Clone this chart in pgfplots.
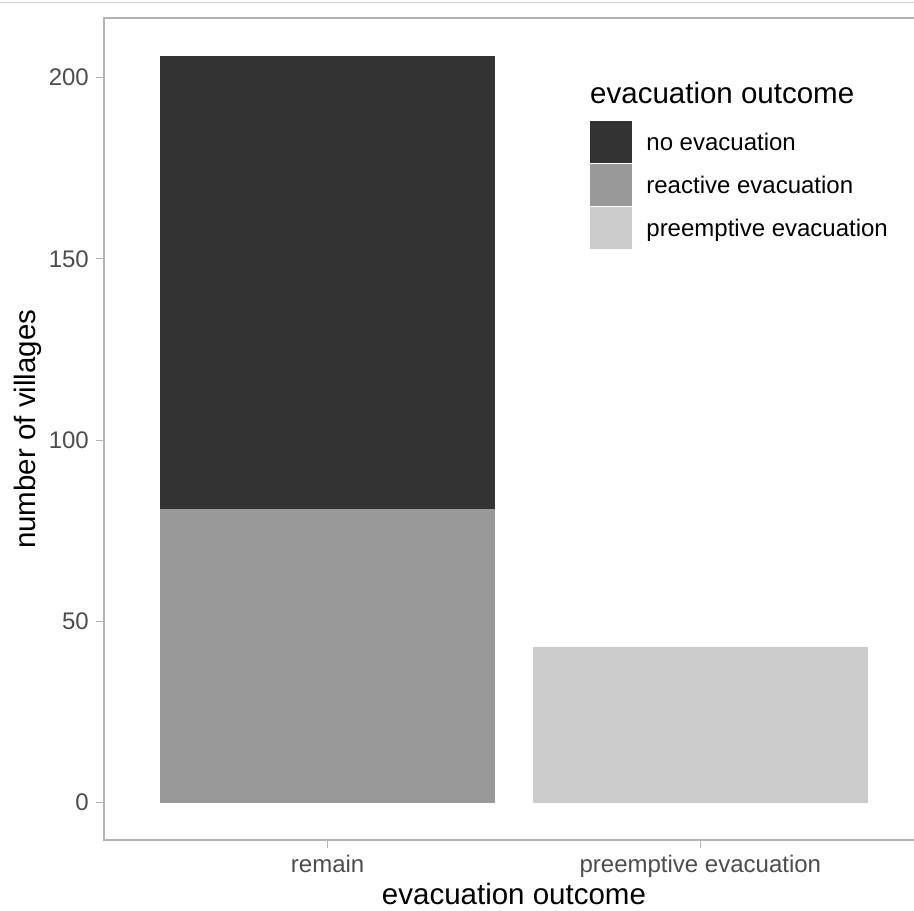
\documentclass[border=0pt]{standalone}
\usepackage{fontspec}
\setmainfont{Liberation Sans}
\usepackage{pgfplots}
\pgfplotsset{compat=1.18}
\definecolor{cdark}{HTML}{333333}
\definecolor{cmid}{HTML}{999999}
\definecolor{clight}{HTML}{CCCCCC}
\definecolor{cborder}{HTML}{B3B3B3}
\definecolor{ctick}{HTML}{4D4D4D}
\definecolor{ctop}{HTML}{CCCCCC}
\begin{document}
\begin{tikzpicture}
\useasboundingbox (0,0) rectangle (914pt,911pt);
\clip (0,0) rectangle (914pt,911pt);
\draw[ctop, line width=1pt] (0,908pt) -- (914pt,908pt);
\begin{axis}[
  at={(104pt,71pt)}, anchor=south west,
  scale only axis, width=820pt, height=821.5pt,
  xmin=0.4, xmax=2.6, ymin=-10.3, ymax=216.3,
  ybar stacked, bar width=0.9,
  xtick={1,2}, xticklabels={remain, preemptive evacuation},
  ytick={0,50,100,150,200},
  xtick pos=bottom, ytick pos=left,
  tick align=outside, major tick length=8.5pt,
  tick style={cborder, line width=1pt},
  axis line style={cborder, line width=2pt},
  /pgf/number format/assume math mode=true,
  ticklabel style={font=\fontsize{24}{28}\selectfont, text=ctick, inner sep=0pt},
  xticklabel style={anchor=base, yshift=-23.5pt},
  yticklabel style={anchor=east, xshift=-6.5pt},
  xlabel={evacuation outcome},
  ylabel={number of villages},
  every axis x label/.style={at={(rel axis cs:0.5,-0.0791)}, anchor=base, inner sep=0pt, font=\fontsize{29.5}{34}\selectfont, text=black},
  every axis y label/.style={at={(rel axis cs:-0.0835,0.5)}, rotate=90, anchor=base, inner sep=0pt, font=\fontsize{29.5}{34}\selectfont, text=black},
  legend style={at={(rel axis cs:0.5927,0.8752)}, anchor=north west, draw=none, fill=none,
    inner sep=0pt, outer sep=0pt, row sep=1.5pt, column sep=15pt,
    font=\fontsize{24}{28}\selectfont,
    nodes={inner sep=0pt, text height=18pt, text depth=0pt, anchor=west}},
  legend cell align=left,
]
\addplot[fill=cmid, draw=none, forget plot] coordinates {(1,81) (2,0)};
\addplot[fill=cdark, draw=none, forget plot] coordinates {(1,125) (2,0)};
\addplot[fill=clight, draw=none, forget plot] coordinates {(1,0) (2,43)};
\addlegendimage{legend image code/.code={\fill[cdark] (0pt,-20.5pt) rectangle (41pt,20.5pt);}}
\addlegendentry{no evacuation}
\addlegendimage{legend image code/.code={\fill[cmid] (0pt,-20.5pt) rectangle (41pt,20.5pt);}}
\addlegendentry{reactive evacuation}
\addlegendimage{legend image code/.code={\fill[clight] (0pt,-20.5pt) rectangle (41pt,20.5pt);}}
\addlegendentry{preemptive evacuation}
\node[anchor=base west, inner sep=0pt, font=\fontsize{29.5}{34}\selectfont] at (rel axis cs:0.5927,0.8971) {evacuation outcome};
\end{axis}
\end{tikzpicture}
\end{document}
